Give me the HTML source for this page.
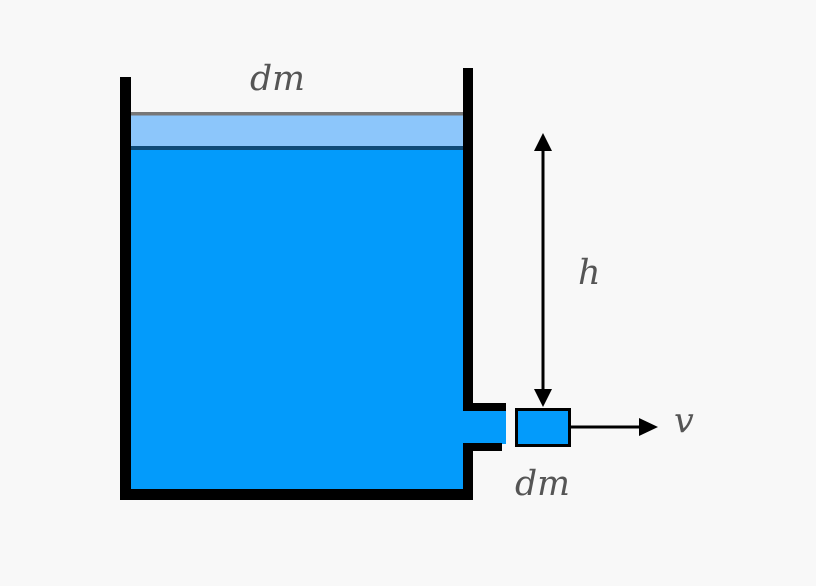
<!DOCTYPE html>
<html><head><style>
html,body{margin:0;padding:0;background:#f8f8f8;}
svg{display:block}
text{font-family:"DejaVu Serif","Liberation Serif",serif;font-style:italic;fill:#555;font-size:35px;}
</style></head><body>
<svg width="816" height="586" viewBox="0 0 816 586" xmlns="http://www.w3.org/2000/svg">
<rect width="816" height="586" fill="#f8f8f8"/>
<rect x="131" y="115" width="332" height="33" fill="#8cc6fb"/>
<rect x="131" y="112" width="332" height="3.5" fill="#777"/>
<rect x="131" y="146" width="332" height="4" fill="#0e4a78"/>
<rect x="131" y="150" width="332" height="340" fill="#039bfb"/>
<rect x="463" y="410" width="43" height="34" fill="#039bfb"/>
<rect x="120" y="77" width="11" height="423" fill="#000"/>
<rect x="120" y="489" width="353" height="11" fill="#000"/>
<rect x="463" y="68" width="10" height="343" fill="#000"/>
<rect x="463" y="403" width="43" height="8" fill="#000"/>
<rect x="463" y="443" width="39" height="8" fill="#000"/>
<rect x="463" y="443" width="10" height="57" fill="#000"/>
<rect x="516.5" y="409.5" width="53" height="36" fill="#039bfb" stroke="#000" stroke-width="3"/>
<line x1="543" y1="148" x2="543" y2="392" stroke="#000" stroke-width="3"/>
<polygon points="543,133 534,151 552,151" fill="#000"/>
<polygon points="543,407 534,389 552,389" fill="#000"/>
<line x1="570" y1="427" x2="642" y2="427" stroke="#000" stroke-width="3"/>
<polygon points="658,427 639,418 639,436" fill="#000"/>
<text x="250" y="90" textLength="55" lengthAdjust="spacingAndGlyphs">dm</text>
<text x="578" y="284">h</text>
<text x="674" y="432">v</text>
<text x="515" y="495" textLength="55" lengthAdjust="spacingAndGlyphs">dm</text>
</svg>
</body></html>
